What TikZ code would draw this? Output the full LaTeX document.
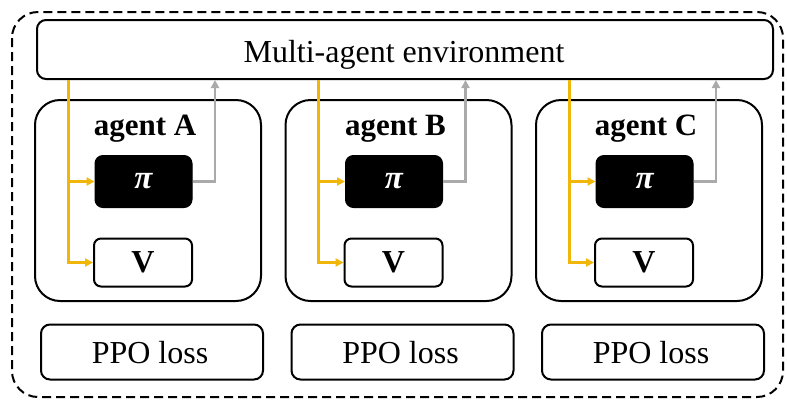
\documentclass[tikz,border=0pt]{standalone}
\usepackage{fontspec}
\setmainfont{Liberation Serif}
\usetikzlibrary{arrows.meta}
\definecolor{feedyellow}{RGB}{240,182,10}
\definecolor{actgray}{RGB}{170,170,170}
\tikzset{
  box/.style={draw=black, line width=2pt, fill=white, inner sep=0pt},
  bigtext/.style={font=\fontsize{32}{36}\selectfont},
  agentbox/.style={box, rounded corners=25pt, minimum width=226pt, minimum height=201pt},
  policybox/.style={draw=black, fill=black, line width=1pt, rounded corners=8pt, inner sep=0pt,
     minimum width=97pt, minimum height=52pt, text=white,
     font=\fontsize{33}{36}\selectfont\bfseries\itshape},
  valuebox/.style={box, rounded corners=7pt, minimum width=98pt, minimum height=48pt,
     font=\fontsize{32}{36}\selectfont\bfseries},
  lossbox/.style={box, rounded corners=9pt, minimum width=222pt, minimum height=55pt},
  agentlabel/.style={anchor=base, font=\fontsize{31}{36}\selectfont\bfseries},
  obsline/.style={draw=feedyellow, line width=3pt, -{Triangle[length=8pt,width=8pt]}},
  actline/.style={draw=actgray, line width=2.5pt, -{Triangle[length=8pt,width=8pt]}},
}
\begin{document}
\begin{tikzpicture}[x=1pt, y=-1pt]
  \useasboundingbox (0,0) rectangle (787,400);
  % outer dashed frame
  \draw[line width=2pt, dash pattern=on 9pt off 5pt, rounded corners=26pt]
    (12,12) rectangle (783,397);
  % shared environment
  \node[box, rounded corners=9pt, minimum width=736pt, minimum height=59pt]
    (env) at (405,49.5) {};
  \node[bigtext, anchor=base] (envlabel) at (404,62) {Multi-agent environment};
  % agents
  \foreach \name/\dx in {A/0, B/250.5, C/501} {
    \node[agentbox] (agent\name) at ({148+\dx},200.5) {};
    \node[agentlabel] (label\name) at ({145+\dx},135) {agent \name};
    \node[policybox] (pi\name) at ({143.5+\dx},181.5) {π};
    \node[valuebox] (v\name) at ({143+\dx},262.5) {V};
    \node[lossbox] (ppo\name) at ({152+\dx},352) {};
    \node[bigtext, anchor=base] (ppolabel\name) at ({150+\dx},363) {PPO loss};
    \coordinate (obs\name) at ({68+\dx},0);
    \coordinate (act\name) at ({215+\dx},0);
    % observations from the environment
    \draw[obsline] (obs\name |- env.south) |- (v\name.west);
    \draw[obsline] (obs\name |- pi\name.west) -- (pi\name.west);
    % actions back to the environment
    \draw[actline] (pi\name.east) -| (act\name |- env.south);
  }
\end{tikzpicture}
\end{document}
